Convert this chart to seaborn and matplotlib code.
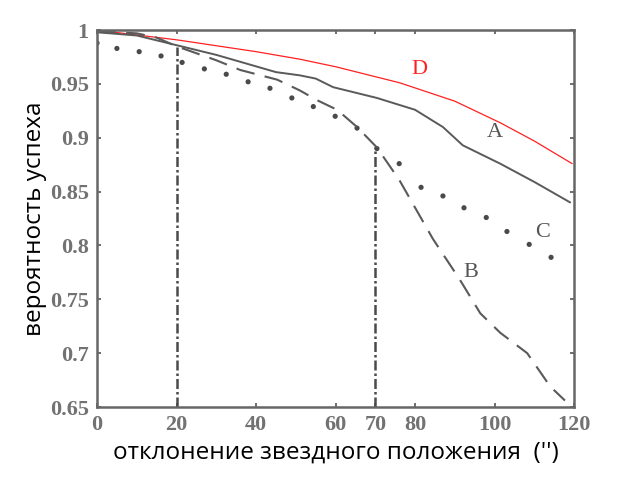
import matplotlib
matplotlib.use("Agg")
import matplotlib.pyplot as plt
import seaborn as sns
import pandas as pd

# Curve A (solid)
a_x = [0, 10, 20, 30, 45, 51, 55, 59.4, 70.4, 80, 87, 92, 101.4, 110, 119]
a_y = [0.998, 0.995, 0.986, 0.977, 0.961, 0.958, 0.955, 0.947, 0.937, 0.926, 0.910, 0.893, 0.876, 0.859, 0.840]
# Curve B (dashed)
b_x = [0, 10, 15, 20, 30, 36, 45.3, 51, 55.3, 60.4, 65.4, 70.4, 76, 84.5, 91.3, 96.4, 101.4, 108.2, 114, 117.7]
b_y = [0.999, 0.997, 0.993, 0.985, 0.972, 0.963, 0.954, 0.944, 0.935, 0.926, 0.910, 0.891, 0.861, 0.806, 0.768, 0.737, 0.719, 0.700, 0.669, 0.656]
# Curve C (dots)
c_x = [0, 5, 10.6, 16.1, 21.4, 27, 32.5, 38, 43.5, 49, 54.4, 59.9, 65.4, 70.4, 76, 81.5, 87, 92.3, 97.9, 103.1, 108.7, 114.2]
c_y = [0.988, 0.983, 0.980, 0.976, 0.970, 0.964, 0.959, 0.952, 0.946, 0.937, 0.929, 0.920, 0.909, 0.890, 0.876, 0.854, 0.846, 0.835, 0.826, 0.813, 0.801, 0.789]
# Curve D (red)
d_x = [0, 20, 40, 51, 60, 76.2, 90, 101.4, 110, 119.5]
d_y = [1.0, 0.991, 0.980, 0.973, 0.966, 0.951, 0.934, 0.914, 0.897, 0.876]
# vertical reference lines
v_x = [20, 70]
v_top = [0.984, 0.891]

x_ticks = [0, 20, 40, 60, 70, 80, 100, 120]
y_ticks = [0.65, 0.7, 0.75, 0.8, 0.85, 0.9, 0.95, 1.0]
y_tick_labels = ["0.65", "0.7", "0.75", "0.8", "0.85", "0.9", "0.95", "1"]

sns.set_theme(style="white")
plt.rcParams['font.family'] = ['Open Sans', 'DejaVu Sans']

fig = plt.figure(figsize=(6.18, 4.78), dpi=100)
ax = fig.add_axes([0.157, 0.1485, 0.772, 0.7885])

gray = "#5a5a5a"
sns.lineplot(x=d_x, y=d_y, ax=ax, color="#ff2020", lw=0.9)
sns.lineplot(x=a_x, y=a_y, ax=ax, color=gray, lw=1.4)
sns.lineplot(x=b_x, y=b_y, ax=ax, color=gray, lw=1.5, dashes=False, linestyle=(0, (9, 5)))
sns.scatterplot(x=c_x, y=c_y, ax=ax, color="#4a4a4a", s=14, edgecolor="none")
for vx, vt in zip(v_x, v_top):
    ax.plot([vx, vx], [0.65, vt], color="#4a4a4a", lw=1.8, linestyle=(0, (4, 1.2, 1, 1.2)))

ax.set_xlim(0, 120)
ax.set_ylim(0.65, 1.0)
ax.set_xticks(x_ticks)
ax.set_xticklabels([str(t) for t in x_ticks])
ax.set_yticks(y_ticks)
ax.set_yticklabels(y_tick_labels)

for lab in ax.get_xticklabels() + ax.get_yticklabels():
    lab.set_fontfamily("Liberation Serif")
    lab.set_fontsize(16)
    lab.set_fontweight("bold")
    lab.set_color("#727272")

ax.tick_params(axis="both", which="both", direction="in", length=3, width=1.2, color="#555555",
               top=True, right=True, bottom=True, left=True, pad=6)
for s in ax.spines.values():
    s.set_color("#666666")
    s.set_linewidth(1.8)

ax.set_xlabel("отклонение звездного положения  ('')", fontsize=17.5, color="black", labelpad=4)
ax.set_ylabel("вероятность успеха", fontsize=17.5, color="black", labelpad=2)

lab_font = dict(family="Liberation Serif", size=16, color="#555555")
ax.text(81, 0.963, "D", color="#ff2020", family="Liberation Serif", size=16, ha="center", va="center")
ax.text(100, 0.905, "A", **lab_font, ha="center", va="center")
ax.text(112, 0.812, "C", **lab_font, ha="center", va="center")
ax.text(94, 0.775, "B", **lab_font, ha="center", va="center")

fig.savefig("out.png", dpi=100)
